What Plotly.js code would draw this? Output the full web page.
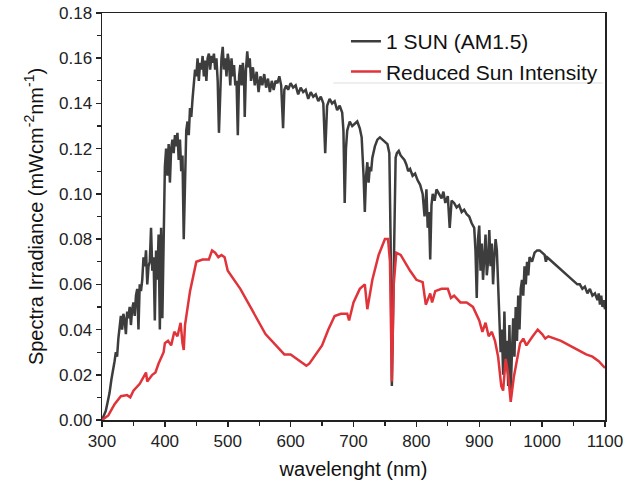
<!DOCTYPE html>
<html>
<head>
<meta charset="utf-8">
<script src="https://cdn.plot.ly/plotly-3.0.1.min.js"></script>
<style>html,body{margin:0;padding:0;background:#fff}#chart{width:625px;height:487px}</style>
</head>
<body>
<div id="chart"></div>
<script>
// 1 SUN (AM1.5) spectrum
const sunX = [300,303,306,309,312,315,318,320,322,324,326,328,330,332,334,336,338,340,342,344,346,348,350,352,354,356,358,360,362,364,366,368,370,372,374,376,378,380,382,384,386,388,390,392,394,396,398,400,402,404,406,408,410,412,414,416,418,420,422,424,426,428,430,432,434,436,438,440,442,444,446,448,450,452,454,456,458,460,462,464,466,468,470,472,474,476,478,480,482,484,486,488,490,492,494,496,498,500,502,504,506,508,510,512,514,516,518,520,522,524,526,527,529,531,533,535,537,540,543,546,549,552,555,558,561,564,567,570,573,576,579,582,585,588,590,593,596,600,604,608,612,616,620,624,628,632,636,640,644,648,652,655,658,662,666,670,674,678,682,684,686,688,690,694,698,702,706,710,713,716,718,720,722,724,726,728,730,734,738,742,746,750,754,757,759,761,763,765,767,769,772,775,778,781,784,787,790,794,798,802,806,810,813,816,818,820,822,824,826,829,832,836,840,843,846,850,853,856,860,864,868,872,876,880,884,888,892,894,896,898,900,902,904,906,908,910,912,914,916,918,920,922,924,926,928,930,932,934,936,938,940,942,944,946,948,950,952,954,956,958,960,962,964,966,968,970,972,974,976,978,980,984,988,992,996,1000,1004,1006,1008,1012,1016,1020,1024,1028,1032,1036,1040,1044,1048,1052,1056,1060,1064,1068,1072,1076,1080,1084,1088,1090,1092,1094,1096,1098,1100];
const sunY = [0,0.002,0.004,0.008,0.012,0.018,0.022,0.026,0.030,0.028,0.036,0.041,0.046,0.040,0.047,0.044,0.038,0.048,0.045,0.050,0.042,0.049,0.052,0.046,0.055,0.058,0.040,0.060,0.057,0.062,0.072,0.068,0.075,0.060,0.068,0.070,0.085,0.066,0.072,0.044,0.075,0.062,0.082,0.040,0.085,0.045,0.090,0.112,0.120,0.108,0.122,0.105,0.120,0.124,0.118,0.126,0.121,0.127,0.115,0.124,0.110,0.117,0.080,0.112,0.128,0.132,0.126,0.138,0.134,0.142,0.148,0.155,0.152,0.160,0.150,0.158,0.155,0.161,0.152,0.159,0.150,0.160,0.162,0.155,0.161,0.158,0.162,0.155,0.160,0.150,0.127,0.150,0.160,0.165,0.155,0.160,0.152,0.162,0.158,0.148,0.160,0.152,0.157,0.148,0.150,0.126,0.152,0.157,0.148,0.158,0.150,0.134,0.155,0.163,0.156,0.160,0.150,0.156,0.148,0.154,0.145,0.152,0.148,0.153,0.147,0.151,0.145,0.150,0.146,0.150,0.149,0.152,0.148,0.129,0.146,0.148,0.146,0.149,0.147,0.148,0.144,0.147,0.145,0.146,0.142,0.145,0.143,0.144,0.141,0.143,0.140,0.118,0.139,0.142,0.140,0.141,0.137,0.139,0.136,0.128,0.096,0.120,0.128,0.132,0.130,0.131,0.132,0.129,0.125,0.108,0.092,0.108,0.114,0.105,0.112,0.110,0.116,0.121,0.124,0.125,0.124,0.123,0.122,0.118,0.080,0.015,0.050,0.100,0.116,0.118,0.119,0.117,0.116,0.115,0.113,0.110,0.111,0.108,0.109,0.106,0.104,0.100,0.090,0.102,0.085,0.092,0.071,0.095,0.100,0.097,0.102,0.100,0.098,0.101,0.096,0.099,0.085,0.097,0.096,0.094,0.095,0.092,0.093,0.091,0.090,0.087,0.085,0.075,0.054,0.080,0.086,0.066,0.078,0.062,0.074,0.082,0.064,0.070,0.084,0.068,0.078,0.060,0.072,0.080,0.075,0.058,0.045,0.030,0.040,0.020,0.048,0.025,0.035,0.015,0.042,0.012,0.030,0.045,0.028,0.050,0.035,0.055,0.040,0.058,0.062,0.055,0.068,0.060,0.070,0.064,0.072,0.070,0.074,0.075,0.075,0.074,0.073,0.070,0.072,0.071,0.070,0.069,0.068,0.067,0.066,0.065,0.064,0.063,0.062,0.061,0.060,0.060,0.058,0.059,0.056,0.058,0.055,0.056,0.053,0.056,0.051,0.055,0.050,0.053,0.049];

// Reduced Sun Intensity spectrum
const redX = [300,310,320,330,340,345,350,360,370,372,380,385,390,398,400,405,410,415,420,425,428,430,432,440,450,460,470,475,480,485,490,495,500,520,540,560,580,590,600,610,625,630,650,660,670,680,690,693,700,710,718,722,730,740,750,755,758,761,764,768,775,790,800,810,815,822,825,830,840,850,855,860,870,880,890,900,905,910,915,920,925,930,935,938,942,946,950,955,960,965,970,975,985,993,1000,1005,1010,1030,1050,1070,1080,1090,1100];
const redY = [0,0.002,0.007,0.0105,0.011,0.010,0.013,0.016,0.021,0.017,0.020,0.021,0.025,0.030,0.034,0.035,0.033,0.039,0.037,0.043,0.034,0.031,0.042,0.057,0.070,0.071,0.071,0.075,0.074,0.072,0.073,0.072,0.066,0.058,0.048,0.038,0.032,0.029,0.029,0.027,0.024,0.025,0.033,0.040,0.046,0.047,0.047,0.044,0.052,0.058,0.060,0.049,0.062,0.073,0.080,0.080,0.070,0.017,0.060,0.074,0.073,0.066,0.062,0.061,0.051,0.056,0.052,0.057,0.058,0.058,0.054,0.055,0.052,0.052,0.050,0.044,0.039,0.043,0.037,0.039,0.035,0.028,0.015,0.013,0.027,0.020,0.008,0.019,0.027,0.034,0.036,0.033,0.037,0.040,0.038,0.036,0.037,0.035,0.032,0.029,0.028,0.026,0.023];

const seriesNames = ['1 SUN (AM1.5)', 'Reduced Sun Intensity'];
const xTickVals = [300,400,500,600,700,800,900,1000,1100];
const yTickVals = [0,0.02,0.04,0.06,0.08,0.10,0.12,0.14,0.16,0.18];

const font = 'Arial, "Liberation Sans", sans-serif';

const traces = [
  {x: sunX, y: sunY, name: seriesNames[0], type: 'scatter', mode: 'lines',
   line: {color: '#3d3d3d', width: 2.5}},
  {x: redX, y: redY, name: seriesNames[1], type: 'scatter', mode: 'lines',
   line: {color: '#e0333a', width: 2.5}}
];

const layout = {
  width: 625, height: 487,
  margin: {l: 102, r: 20, t: 13, b: 67},
  paper_bgcolor: '#fff', plot_bgcolor: '#fff',
  font: {family: font, color: '#222', size: 17},
  showlegend: true,
  legend: {x: 0.485, xanchor: 'left', y: 0.98, yanchor: 'top', bgcolor: 'rgba(0,0,0,0)',
           font: {family: font, size: 21, color: '#111'}, tracegroupgap: 0},
  xaxis: {
    range: [300, 1100], tickvals: xTickVals, ticktext: xTickVals.map(String),
    showline: true, linecolor: '#222', linewidth: 1.5, mirror: true,
    ticks: 'outside', ticklen: 5, tickwidth: 1.5, tickcolor: '#222',
    minor: {dtick: 50, ticks: 'outside', ticklen: 4, tickwidth: 1.2, tickcolor: '#222', showgrid: false},
    showgrid: false, zeroline: false,
    tickfont: {size: 17, family: font, color: '#222'},
    title: {text: 'wavelenght (nm)', font: {size: 20, family: font, color: '#111'}, standoff: 12}
  },
  yaxis: {
    range: [0, 0.18], tickvals: yTickVals, ticktext: yTickVals.map(v => v.toFixed(2)),
    showline: true, linecolor: '#222', linewidth: 1.5, mirror: true,
    ticks: 'outside', ticklen: 5, tickwidth: 1.5, tickcolor: '#222',
    minor: {dtick: 0.01, ticks: 'outside', ticklen: 4, tickwidth: 1.2, tickcolor: '#222', showgrid: false},
    showgrid: false, zeroline: false,
    tickfont: {size: 17, family: font, color: '#222'},
    title: {text: 'Spectra Irradiance (mWcm<sup>-2</sup>nm<sup>-1</sup>)', font: {size: 20, family: font, color: '#111'}, standoff: 10}
  },
  shapes: [
    {type: 'line', xref: 'paper', yref: 'paper', x0: 0.46, x1: 0.995, y0: 0.828, y1: 0.828,
     line: {color: '#dddddd', width: 1}}
  ]
};

Plotly.newPlot('chart', traces, layout, {displayModeBar: false, staticPlot: true});
</script>
</body>
</html>
